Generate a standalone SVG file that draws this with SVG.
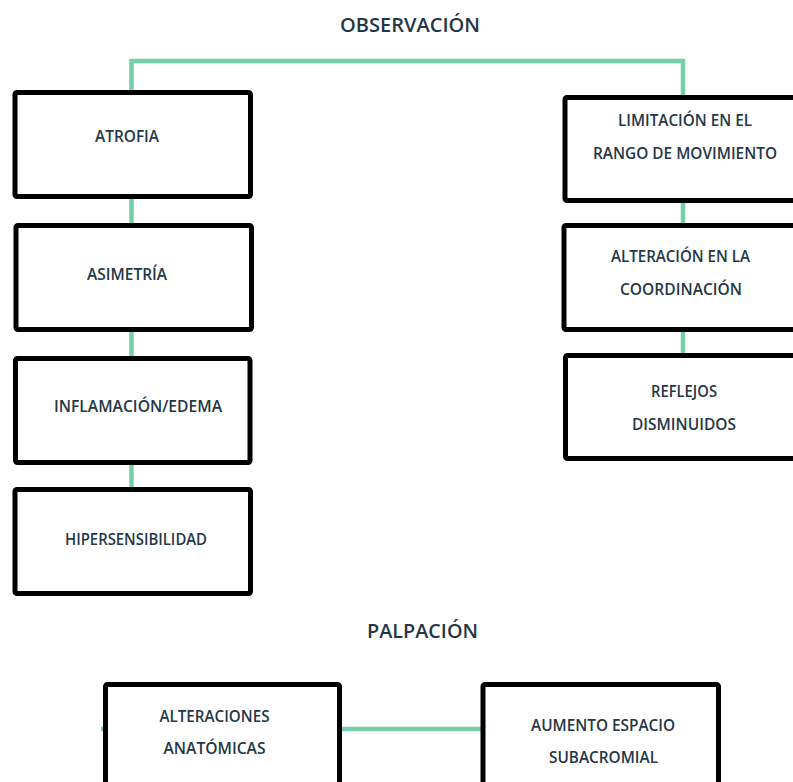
<svg xmlns="http://www.w3.org/2000/svg" width="793" height="782" viewBox="0 0 793 782">
<style>
.bg{fill:#ffffff}
.box{fill:#ffffff;stroke:#000000;stroke-width:5;rx:2}
.con{fill:none;stroke:#75cfa8;stroke-width:4.5}
.t{font-family:"Open Sans","Liberation Sans",sans-serif;font-weight:600;font-size:16px;fill:#253746;text-anchor:middle}
.h{font-family:"Open Sans","Liberation Sans",sans-serif;font-weight:600;font-size:20px;fill:#253746;text-anchor:middle}
</style>
<rect class="bg" x="0" y="0" width="793" height="782"/>
<g id="connectors">
<path class="con" d="M131.5 95 V61 H683 V98"/>
<path class="con" d="M131.5 196 V226"/>
<path class="con" d="M131.5 329 V358"/>
<path class="con" d="M131.5 462 V489"/>
<path class="con" d="M683 200 V226"/>
<path class="con" d="M683 329 V355"/>
<path class="con" d="M101 729 H482"/>
</g>
<g id="title-observacion"><text class="h" x="410" y="32" textLength="140" lengthAdjust="spacingAndGlyphs">OBSERVACIÓN</text></g>
<g id="atrofia"><rect class="box" x="15" y="92.5" width="235.5" height="104"/><text class="t" x="127" y="141.5" textLength="64" lengthAdjust="spacingAndGlyphs">ATROFIA</text></g>
<g id="asimetria"><rect class="box" x="16" y="225.5" width="235.5" height="104"/><text class="t" x="127" y="280" textLength="80" lengthAdjust="spacingAndGlyphs">ASIMETRÍA</text></g>
<g id="inflamacion"><rect class="box" x="15.5" y="358.5" width="234.5" height="104"/><text class="t" x="138" y="412" textLength="168" lengthAdjust="spacingAndGlyphs">INFLAMACIÓN/EDEMA</text></g>
<g id="hipersensibilidad"><rect class="box" x="15" y="489.5" width="235.5" height="104"/><text class="t" x="136" y="545" textLength="142" lengthAdjust="spacingAndGlyphs">HIPERSENSIBILIDAD</text></g>
<g id="limitacion"><rect class="box" x="565" y="97.5" width="240" height="103"/><text class="t" x="685" y="126" textLength="134" lengthAdjust="spacingAndGlyphs">LIMITACIÓN EN EL</text><text class="t" x="685" y="158.5" textLength="184" lengthAdjust="spacingAndGlyphs">RANGO DE MOVIMIENTO</text></g>
<g id="alteracion"><rect class="box" x="564" y="225.5" width="240" height="104"/><text class="t" x="680.5" y="262" textLength="139" lengthAdjust="spacingAndGlyphs">ALTERACIÓN EN LA</text><text class="t" x="681" y="295" textLength="122" lengthAdjust="spacingAndGlyphs">COORDINACIÓN</text></g>
<g id="reflejos"><rect class="box" x="565.5" y="355.5" width="240" height="103"/><text class="t" x="684" y="397" textLength="66" lengthAdjust="spacingAndGlyphs">REFLEJOS</text><text class="t" x="684" y="430" textLength="104" lengthAdjust="spacingAndGlyphs">DISMINUIDOS</text></g>
<g id="title-palpacion"><text class="h" x="422.5" y="638" textLength="111" lengthAdjust="spacingAndGlyphs">PALPACIÓN</text></g>
<g id="alteraciones"><rect class="box" x="105.5" y="684.5" width="234" height="110"/><text class="t" x="214.5" y="722" textLength="110" lengthAdjust="spacingAndGlyphs">ALTERACIONES</text><text class="t" x="214.5" y="754" textLength="102" lengthAdjust="spacingAndGlyphs">ANATÓMICAS</text></g>
<g id="aumento"><rect class="box" x="483" y="684.5" width="235.5" height="110"/><text class="t" x="603" y="731" textLength="144" lengthAdjust="spacingAndGlyphs">AUMENTO ESPACIO</text><text class="t" x="603.5" y="763" textLength="109" lengthAdjust="spacingAndGlyphs">SUBACROMIAL</text></g>
</svg>
